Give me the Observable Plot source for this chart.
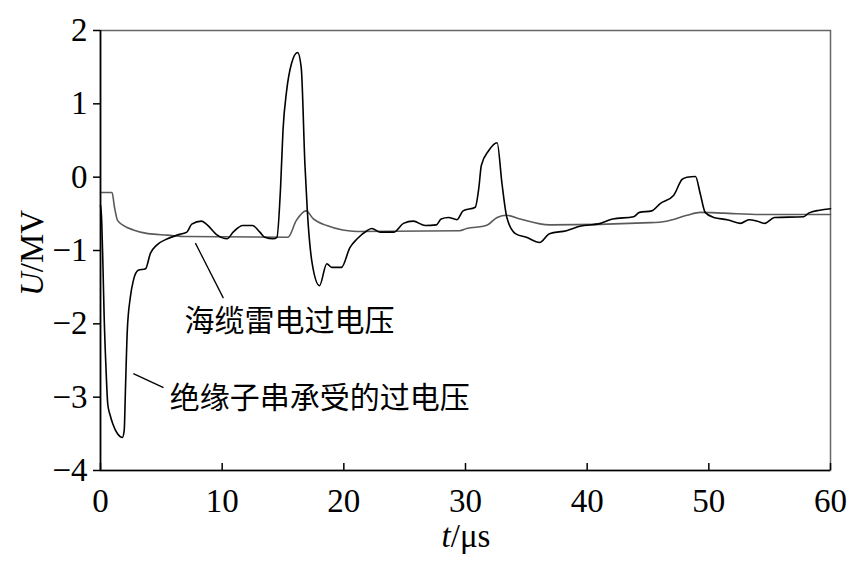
<!DOCTYPE html>
<html>
<head>
<meta charset="utf-8">
<script src="https://cdn.jsdelivr.net/npm/d3@7"></script>
<script src="https://cdn.jsdelivr.net/npm/@observablehq/plot@0.6"></script>
<style>
  html, body { margin: 0; padding: 0; background: #fff; }
  #chart svg { display: block; }
</style>
</head>
<body>
<div id="chart"></div>
<script>
// 绝缘子串承受的过电压 (black)
const insT = [0,0.1,0.2,0.3,0.45,0.6,0.8,1.0,1.4,1.8,1.95,2.05,2.2,2.45,2.7,3.1,3.7,4.1,4.6,5.5,6.5,7.1,7.5,8.3,8.7,9.6,10.4,10.9,11.7,12.5,13.1,13.5,14.2,14.5,14.8,15.0,15.3,15.7,16.2,16.5,16.8,17.0,17.4,18.0,18.6,19.0,19.8,20.5,21.1,21.9,22.3,23.0,24.1,24.9,25.7,26.7,27.6,28.0,28.6,29.3,29.8,30.8,31.1,31.3,31.9,32.6,33.0,33.4,34.1,35.0,36.1,36.9,38.3,39.4,41.1,42.1,43.8,44.3,45.3,46.0,47.1,47.8,48.2,48.9,49.3,49.7,50.4,51.5,52.6,53.3,54.0,54.6,55.4,57.8,58.2,59.1,60];
const insV = [-0.38,-0.6,-1.2,-1.9,-2.6,-3.1,-3.25,-3.36,-3.5,-3.55,-3.45,-2.9,-2.1,-1.64,-1.41,-1.27,-1.25,-1.04,-0.93,-0.84,-0.78,-0.75,-0.64,-0.6,-0.64,-0.79,-0.84,-0.75,-0.66,-0.66,-0.75,-0.82,-0.84,-0.82,-0.14,0.64,1.18,1.55,1.70,1.49,0.18,-0.46,-1.18,-1.48,-1.18,-1.23,-1.23,-0.96,-0.84,-0.73,-0.70,-0.75,-0.75,-0.63,-0.6,-0.66,-0.65,-0.57,-0.55,-0.58,-0.46,-0.41,-0.14,0.16,0.36,0.47,-0.09,-0.55,-0.77,-0.82,-0.89,-0.77,-0.73,-0.67,-0.63,-0.57,-0.54,-0.48,-0.46,-0.36,-0.25,-0.03,0.0,0.01,-0.23,-0.48,-0.55,-0.58,-0.63,-0.58,-0.6,-0.63,-0.55,-0.54,-0.49,-0.45,-0.43];
// 海缆雷电过电压 (gray)
const cabT = [0,0.95,1.15,1.4,1.9,2.7,3.9,5.5,7.0,15.4,16.1,16.9,17.5,18.6,19.9,21.1,29.5,30.1,31.7,32.6,33.4,34.5,36.9,45.2,46.5,48.2,49.3,51.2,54.2,60];
const cabV = [-0.21,-0.21,-0.41,-0.59,-0.66,-0.72,-0.77,-0.79,-0.81,-0.82,-0.59,-0.46,-0.57,-0.66,-0.72,-0.74,-0.73,-0.70,-0.66,-0.55,-0.52,-0.57,-0.65,-0.62,-0.6,-0.52,-0.48,-0.49,-0.51,-0.51];

const xTicks = [0,10,20,30,40,50,60];
const yTicks = [-4,-3,-2,-1,0,1,2];

const labelText = ["海缆雷电过电压", "绝缘子串承受的过电压"];
const labelT = [6.9, 5.7];
const labelV = [-1.97, -3.02];
const leadT1 = [7.8, 2.7];
const leadV1 = [-0.90, -2.68];
const leadT2 = [10.1, 5.18];
const leadV2 = [-1.65, -2.87];

const ins = insT.map((t, i) => ({t, v: insV[i]}));
const cab = cabT.map((t, i) => ({t, v: cabV[i]}));
const labels = labelText.map((s, i) => ({s, t: labelT[i], v: labelV[i]}));
const leaders = leadT1.map((t, i) => ({t1: t, v1: leadV1[i], t2: leadT2[i], v2: leadV2[i]}));

const serif = "Liberation Serif, Times New Roman, serif";
const fmt = d => d < 0 ? "\u2212" + Math.abs(d) : String(d);

const chart = Plot.plot({
  width: 860,
  height: 563,
  marginLeft: 100,
  marginRight: 30,
  marginTop: 30,
  marginBottom: 93,
  style: {fontFamily: serif, fontSize: "33px", color: "black", background: "white"},
  x: {domain: [0, 60]},
  y: {domain: [-4, 2]},
  marks: [
    Plot.frame({stroke: "#666", strokeWidth: 1.5}),
    Plot.line(cab, {x: "t", y: "v", stroke: "#5a5a5a", strokeWidth: 1.6, curve: "monotone-x"}),
    Plot.line(ins, {x: "t", y: "v", stroke: "black", strokeWidth: 1.6, curve: "monotone-x"}),
    Plot.link(leaders, {x1: "t1", y1: "v1", x2: "t2", y2: "v2", stroke: "black", strokeWidth: 1.3}),
    Plot.text(labels.slice(0,1), {x: "t", y: "v", text: "s", textAnchor: "start", lineAnchor: "middle",
      fontFamily: "Noto Sans CJK SC, sans-serif", fontSize: 30, fill: "black", ariaLabel: "label1"}),
    Plot.text(labels.slice(1), {x: "t", y: "v", text: "s", textAnchor: "start", lineAnchor: "middle",
      fontFamily: "Noto Sans CJK SC, sans-serif", fontSize: 30, fill: "black", ariaLabel: "label2"}),
    Plot.ruleX([0], {stroke: "black", strokeWidth: 1.6}),
    Plot.ruleY([-4], {stroke: "black", strokeWidth: 1.6}),
    Plot.axisY({ticks: yTicks, tickFormat: fmt, tickSize: 7, tickPadding: 6, label: null,
      fontFamily: serif, fontSize: 33, strokeWidth: 1.5}),
    Plot.axisX({ticks: xTicks, tickFormat: fmt, tickSize: 0, tickPadding: 18, label: null,
      fontFamily: serif, fontSize: 33}),
    Plot.axisX({ticks: xTicks, tickSize: 7, dy: -7, tickFormat: () => "", label: null, strokeWidth: 1.5})
  ]
});

const svg = d3.select(chart);
svg.select('g[aria-label="label1"]').selectAll("text").style("letter-spacing", "3.5px");
svg.select('g[aria-label="label2"]').selectAll("text").style("letter-spacing", "7px");

// axis titles with italic variables
const xl = svg.append("text")
  .attr("x", 466).attr("y", 547)
  .attr("text-anchor", "middle")
  .attr("font-family", serif).attr("font-size", 33).attr("fill", "black");
xl.append("tspan").attr("font-style", "italic").text("t");
xl.append("tspan").text("/μs");

const yl = svg.append("text")
  .attr("transform", "translate(43,253) rotate(-90)")
  .attr("text-anchor", "middle")
  .attr("font-family", serif).attr("font-size", 33).attr("fill", "black");
yl.append("tspan").attr("font-style", "italic").text("U");
yl.append("tspan").text("/MV");

document.getElementById("chart").appendChild(chart);
</script>
</body>
</html>
